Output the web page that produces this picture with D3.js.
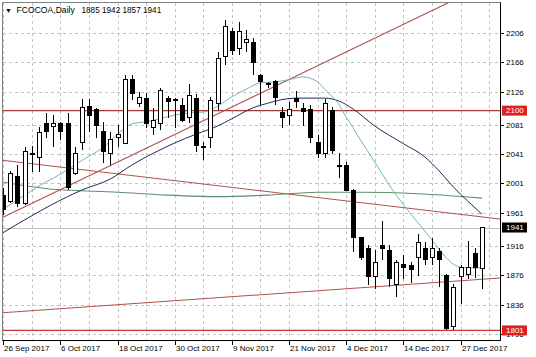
<!DOCTYPE html>
<html><head><meta charset="utf-8">
<script src="https://cdn.jsdelivr.net/npm/d3@7"></script>
<style>html,body{margin:0;padding:0;background:#fff;}svg{display:block;}</style>
</head><body>
<svg id="chart" width="536" height="357"></svg>
<script>
// ---------- data ----------
const openP  = [1985,1976,2011,1974,2040,2036,2083,2078,2082,2083,2014,2057,2105,2101,2071,2041,2064,2055,2143,2110,2116,2077,2083,2116,2114,2107,2090,2116,2050,2063,2110,2173,2207,2185,2192,2192,2148,2137,2139,2098,2094,2117,2103,2101,2057,2041,2100,2026,2025,1991,1927,1912,1875,1917,1910,1864,1891,1890,1900,1913,1900,1908,1876,1806,1875,1877,1905,1885];
const highP  = [1995,2018,2026,2050,2052,2078,2097,2094,2085,2097,2050,2116,2116,2104,2085,2071,2080,2148,2149,2125,2124,2103,2131,2120,2117,2117,2136,2123,2057,2119,2180,2223,2212,2220,2210,2199,2150,2139,2142,2105,2112,2127,2110,2108,2067,2116,2105,2043,2030,1993,1928,1917,1910,1950,1917,1897,1904,1894,1932,1921,1927,1913,1878,1864,1890,1923,1913,1942];
const lowP   = [1958,1974,1969,1972,2017,2017,2063,2050,2060,1992,2012,2046,2071,2063,2029,2026,2050,2054,2115,2105,2077,2067,2074,2090,2076,2084,2083,2044,2033,2049,2101,2162,2176,2176,2180,2148,2108,2131,2108,2076,2080,2104,2079,2056,2036,2036,2041,2008,1990,1908,1897,1863,1857,1897,1860,1847,1871,1866,1875,1890,1890,1860,1801,1802,1837,1871,1872,1857];
const closeP = [1965,2015,1973,2045,2042,2070,2072,2082,2072,1996,2041,2104,2093,2080,2044,2061,2068,2143,2123,2118,2082,2086,2127,2112,2115,2087,2120,2053,2051,2114,2171,2214,2182,2208,2197,2166,2139,2136,2118,2090,2102,2112,2099,2064,2042,2110,2046,2024,1991,1927,1900,1875,1893,1913,1871,1894,1886,1884,1920,1898,1912,1897,1803,1860,1886,1887,1887,1941];

const dateTickIdx = [0,8,16,24,32,40,48,56,64];
const dateLabels  = ["26 Sep 2017","6 Oct 2017","18 Oct 2017","30 Oct 2017","9 Nov 2017","21 Nov 2017","4 Dec 2017","14 Dec 2017","27 Dec 2017"];
const priceTicks  = [2206,2166,2126,2081,2041,2001,1961,1916,1876,1836,1796];

// moving averages [bar index, value]
const maFast = [[0,1966],[3,1985],[6,2003],[7,2008],[10,2026],[12,2038],[14,2050],[16,2068],[18,2082],[20,2085],[22,2089],[24,2094],[26,2097],[28,2098],[30,2106],[32,2119],[34,2129],[36,2138],[38,2139],[40,2142],[42,2146],[43,2144],[44,2139],[45,2129],[47,2108],[48,2091],[49,2076],[50,2060],[52,2030],[54,1999],[56,1972],[58,1948],[60,1924],[62,1900],[63,1891],[64,1887],[66,1886],[67,1886]];
const maMid  = [[0,1934],[4,1957],[9,1983],[11,1992],[15,2007],[18,2026],[21,2042],[24,2056],[27,2068],[30,2079],[32,2089],[35,2104],[37,2110],[39,2115],[41,2117],[45,2117],[47,2113],[49,2102],[52,2079],[56,2055],[59,2037],[61,2018],[63,1996],[65,1977],[67,1959]];
const maSlow = [[0,2003],[7,1993],[16,1989],[23,1985],[30,1983],[37,1985],[44,1989],[50,1989],[58,1987],[67,1981]];

// trend lines [bar index, value]
const trendUp   = [[-0.1,1954.5],[62.35,2247]];
const trendDown = [[-0.1,2032.4],[69.5,1952.6]];
const trendLow  = [[-0.1,1825],[69.5,1872.3]];

const levelRed = 2100, levelLow = 1801, bidPrice = 1941;
const titleSym = "FCOCOA,Daily";
const titleVals = "1885 1942 1857 1941";

// ---------- layout ----------
const L = 2.5, T = 2.5, R = 500, B = 340;
const svg = d3.select("#chart");
svg.append("rect").attr("width",536).attr("height",357).attr("fill","#fff");

const x = d3.scaleLinear().domain([0,67]).range([3.2,482]);
const y = d3.scaleLinear().domain([1836,2206]).range([304.7,32.7]);
const font = "'Liberation Sans', Arial, sans-serif";

svg.append("clipPath").attr("id","clip").append("rect")
  .attr("x",L).attr("y",T).attr("width",R-L).attr("height",B-T);

const grid = svg.append("g").attr("stroke","#c4c4c4").attr("stroke-dasharray","3,3").attr("shape-rendering","crispEdges");
priceTicks.forEach(v => {
  const yy = Math.round(y(v))+0.5;
  if (yy > T && yy < B) grid.append("line").attr("x1",L).attr("x2",R).attr("y1",yy).attr("y2",yy);
});
d3.range(0,69,4).forEach(i => {
  const xx = Math.round(x(i))+0.5;
  grid.append("line").attr("x1",xx).attr("x2",xx).attr("y1",T).attr("y2",B);
});

const plot = svg.append("g").attr("clip-path","url(#clip)");

// bid line
plot.append("line").attr("x1",L).attr("x2",R)
  .attr("y1",Math.round(y(bidPrice))+0.5).attr("y2",Math.round(y(bidPrice))+0.5)
  .attr("stroke","#c0c0c0").attr("stroke-width",1);

// horizontal levels
plot.append("line").attr("x1",L).attr("x2",R).attr("y1",y(levelRed)).attr("y2",y(levelRed))
  .attr("stroke","#a33a36").attr("stroke-width",1.4);
plot.append("line").attr("x1",L).attr("x2",R).attr("y1",y(levelLow)).attr("y2",y(levelLow))
  .attr("stroke","#c8383a").attr("stroke-width",1.2);

// trend lines
const line = d3.line().x(d => x(d[0])).y(d => y(d[1]));
[trendUp, trendDown, trendLow].forEach(t => {
  plot.append("path").attr("d", line(t)).attr("fill","none")
    .attr("stroke","#b0524e").attr("stroke-width",1.1);
});

// moving averages
const curve = d3.line().x(d => x(d[0])).y(d => y(d[1])).curve(d3.curveMonotoneX);
plot.append("path").attr("d",curve(maSlow)).attr("fill","none").attr("stroke","#5e8e6c").attr("stroke-width",1.1);
plot.append("path").attr("d",curve(maMid)).attr("fill","none").attr("stroke","#1e2a58").attr("stroke-width",1);
plot.append("path").attr("d",curve(maFast)).attr("fill","none").attr("stroke","#74b4b6").attr("stroke-width",1);

// candles
const bars = d3.range(openP.length).map(i => ({i, o:openP[i], h:highP[i], l:lowP[i], c:closeP[i]}));
const cg = plot.append("g").attr("shape-rendering","crispEdges");
cg.selectAll("line.wick").data(bars).join("line").attr("class","wick")
  .attr("x1", d => Math.round(x(d.i))+0.5).attr("x2", d => Math.round(x(d.i))+0.5)
  .attr("y1", d => y(d.h)).attr("y2", d => y(d.l))
  .attr("stroke","#000").attr("stroke-width",1);
cg.selectAll("rect.body").data(bars).join("rect").attr("class","body")
  .attr("x", d => Math.round(x(d.i))-1.5).attr("width",4)
  .attr("y", d => y(Math.max(d.o,d.c)))
  .attr("height", d => Math.max(1, Math.abs(y(d.o)-y(d.c))))
  .attr("fill", d => d.c < d.o ? "#000" : "#fff")
  .attr("stroke","#000").attr("stroke-width",1);

// frame
svg.append("rect").attr("x",L).attr("y",T).attr("width",R-L).attr("height",B-T)
  .attr("fill","none").attr("stroke","#808080").attr("shape-rendering","crispEdges");
svg.append("line").attr("x1",R+0.5).attr("x2",R+0.5).attr("y1",T).attr("y2",B+0.5).attr("stroke","#000");
svg.append("line").attr("x1",L).attr("x2",R+0.5).attr("y1",B+0.5).attr("y2",B+0.5).attr("stroke","#000");

// right axis
const ya = svg.append("g").attr("font-family",font).attr("font-size","8px").attr("fill","#000");
priceTicks.forEach(v => {
  const yy = Math.round(y(v))+0.5;
  ya.append("line").attr("x1",R).attr("x2",R+4).attr("y1",yy).attr("y2",yy).attr("stroke","#000");
  ya.append("text").attr("x",506).attr("y",yy).attr("dy","0.35em").text(v);
});

// price labels
function tag(v, bg, label){
  const yy = y(v);
  svg.append("rect").attr("x",502).attr("y",yy-5).attr("width",25).attr("height",10).attr("fill",bg);
  svg.append("text").attr("x",506).attr("y",yy).attr("dy","0.35em")
    .attr("font-family",font).attr("font-size","8px").attr("fill","#fff").text(label);
}
tag(levelRed, "#e0201e", levelRed);
tag(bidPrice, "#000", bidPrice);
tag(levelLow, "#e0201e", levelLow);

// bottom axis
const xa = svg.append("g").attr("font-family",font).attr("font-size","8px").attr("fill","#000");
dateTickIdx.forEach((i,k) => {
  const xx = Math.round(x(i))+0.5;
  xa.append("line").attr("x1",xx).attr("x2",xx).attr("y1",B).attr("y2",B+5).attr("stroke","#000");
  xa.append("text").attr("x",xx+0.5).attr("y",351).text(dateLabels[k]);
});

// title
svg.append("text").attr("x",5).attr("y",12.5).attr("font-family",font).attr("font-size","7px").text("▼");
svg.append("text").attr("x",16.5).attr("y",12.5).attr("font-family",font).attr("font-size","8.6px").text(titleSym);
svg.append("text").attr("x",81.5).attr("y",12.5).attr("font-family",font).attr("font-size","8.2px").text(titleVals);
</script>
</body></html>
